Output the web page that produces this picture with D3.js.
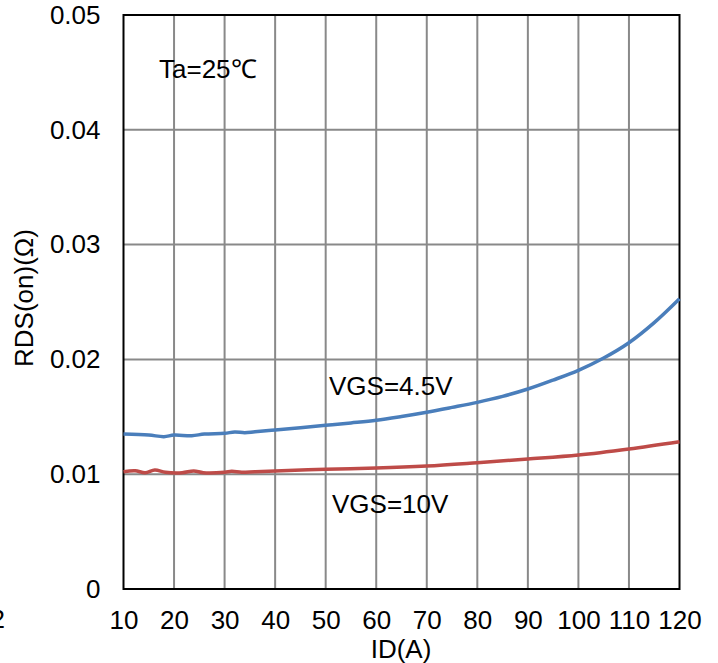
<!DOCTYPE html>
<html>
<head>
<meta charset="utf-8">
<script src="https://cdn.jsdelivr.net/npm/d3@7"></script>
<style>
html,body{margin:0;padding:0;background:#fff;}
svg{display:block;font-family:Arial,"Liberation Sans",sans-serif;}
</style>
</head>
<body>
<svg id="chart" width="718" height="663"></svg>
<script>
// ---- data ----
const xTicks = [10,20,30,40,50,60,70,80,90,100,110,120];
const yTicks = [0,0.01,0.02,0.03,0.04,0.05];
const yTickLabels = ["0","0.01","0.02","0.03","0.04","0.05"];

const id45 = [10,15,18,20,23.5,26,30,32,34,36,40,45,50,55,60,65,70,75,80,85,90,95,100,105,110,115,120];
const r45  = [0.01350,0.01341,0.01327,0.01341,0.01335,0.01350,0.01356,0.01368,0.01362,0.01370,0.01385,0.01405,0.01426,0.01447,0.01470,0.01503,0.01540,0.01582,0.01626,0.01678,0.01742,0.01820,0.01905,0.02012,0.02145,0.02320,0.02528];

const id10 = [10,12.3,14.3,16.2,18.3,21.6,23.9,25.8,30,31.4,33.4,36,40,50,60,70,80,90,100,110,120];
const r10  = [0.01022,0.01030,0.01013,0.01037,0.01017,0.01013,0.01028,0.01013,0.01017,0.01025,0.01017,0.01022,0.01028,0.01043,0.01053,0.01071,0.01100,0.01132,0.01167,0.01220,0.01283];

const seriesNames = ["VGS=4.5V","VGS=10V"];
const seriesColors = ["#4a7ebb","#be4b48"];

// ---- layout ----
const svg = d3.select("#chart");
const L = 123.5, T = 15, W = 556, H = 574;
const x = d3.scaleLinear().domain([10,120]).range([L, L+W]);
const y = d3.scaleLinear().domain([0,0.05]).range([T+H, T]);
const FS = 26;

// gridlines
svg.append("g").selectAll("line").data(xTicks.slice(1,-1)).join("line")
  .attr("x1", d=>x(d)).attr("x2", d=>x(d)).attr("y1", T).attr("y2", T+H)
  .attr("stroke", "#898989").attr("stroke-width", 2);
svg.append("g").selectAll("line").data(yTicks.slice(1,-1)).join("line")
  .attr("x1", L).attr("x2", L+W).attr("y1", d=>y(d)).attr("y2", d=>y(d))
  .attr("stroke", "#898989").attr("stroke-width", 2);

// axes (labels)
const xAxis = d3.axisBottom(x).tickValues(xTicks).tickSize(0).tickPadding(22).tickFormat(d3.format("d"));
const gx = svg.append("g").attr("transform", `translate(0,${T+H})`).call(xAxis);
gx.select(".domain").remove();
gx.selectAll("text").attr("font-size", FS).attr("font-family", "Arial, 'Liberation Sans', sans-serif").attr("fill", "#000");

const yAxis = d3.axisLeft(y).tickValues(yTicks).tickSize(0).tickPadding(23).tickFormat((d,i)=>yTickLabels[i]);
const gy = svg.append("g").attr("transform", `translate(${L},0)`).call(yAxis);
gy.select(".domain").remove();
gy.selectAll("text").attr("font-size", FS).attr("font-family", "Arial, 'Liberation Sans', sans-serif").attr("fill", "#000");

// frame
svg.append("rect").attr("x", L).attr("y", T).attr("width", W).attr("height", H)
  .attr("fill", "none").attr("stroke", "#000").attr("stroke-width", 2);

// lines
const line = d3.line().x(d=>x(d[0])).y(d=>y(d[1])).curve(d3.curveCatmullRom.alpha(0.5));
const data = [d3.zip(id45, r45), d3.zip(id10, r10)];
svg.append("g").selectAll("path").data(data).join("path")
  .attr("d", line).attr("fill", "none")
  .attr("stroke", (d,i)=>seriesColors[i]).attr("stroke-width", 3.5)
  .attr("stroke-linejoin", "round").attr("stroke-linecap", "butt");

// annotations
svg.append("text").attr("x", 159).attr("y", 78).attr("font-size", FS).text("Ta=25℃");
svg.append("text").attr("x", 329).attr("y", 395).attr("font-size", FS).text(seriesNames[0]);
svg.append("text").attr("x", 332).attr("y", 513).attr("font-size", FS).text(seriesNames[1]);

// axis titles
svg.append("text").attr("x", 401).attr("y", 658).attr("text-anchor", "middle").attr("font-size", FS).text("ID(A)");
svg.append("text").attr("transform", "translate(33,298) rotate(-90)").attr("text-anchor", "middle").attr("font-size", FS).text("RDS(on)(Ω)");

// stray label clipped at the left edge, as in the reference
svg.append("text").attr("x", 5).attr("y", 628).attr("text-anchor", "end").attr("font-size", FS).text("2");
</script>
</body>
</html>
